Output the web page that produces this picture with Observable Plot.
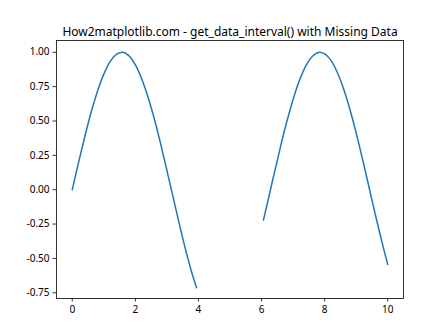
<!DOCTYPE html>
<html><head><meta charset="utf-8">
<script src="https://cdn.jsdelivr.net/npm/d3@7"></script>
<script src="https://cdn.jsdelivr.net/npm/@observablehq/plot@0.6"></script>
<style>body{margin:0;background:#fff}</style>
</head><body><div id="chart"></div>
<script>
const title = "How2matplotlib.com - get_data_interval() with Missing Data";
const xValues = [0,0.2,0.4,0.6,0.8,1.0,1.2,1.4,1.6,1.8,2.0,2.2,2.4,2.6,2.8,3.0,3.2,3.4,3.6,3.8,3.94,
  5,
  6.06,6.2,6.4,6.6,6.8,7.0,7.2,7.4,7.6,7.8,8.0,8.2,8.4,8.6,8.8,9.0,9.2,9.4,9.6,9.8,10];
const yValues = [0,0.199,0.389,0.565,0.717,0.841,0.932,0.985,1.0,0.974,0.909,0.808,0.675,0.516,0.335,0.141,-0.058,-0.256,-0.443,-0.612,-0.713,
  null,
  -0.221,-0.083,0.117,0.312,0.494,0.657,0.794,0.899,0.968,0.999,0.989,0.941,0.855,0.734,0.585,0.412,0.223,0.025,-0.174,-0.366,-0.544];
const xTicks = [0,2,4,6,8,10];
const yTicks = [-0.75,-0.5,-0.25,0,0.25,0.5,0.75,1.0];
const data = xValues.map((x,i)=>({x, y: yValues[i]}));

const font = "'Segoe UI','Noto Sans','DejaVu Sans',sans-serif";
const chart = Plot.plot({
  width: 448, height: 336,
  marginLeft: 56, marginRight: 45, marginTop: 40, marginBottom: 38,
  style: {fontFamily: font, fontSize: "10px", color: "#000", background: "#fff"},
  x: {domain: [-0.5, 10.5]},
  y: {domain: [-0.7917, 1.0857]},
  marks: [
    Plot.line(data, {x: "x", y: "y", stroke: "#1f77b4", strokeWidth: 1.5, curve: "catmull-rom"}),
    Plot.frame({stroke: "#000", strokeWidth: 0.8}),
    Plot.axisX(xTicks, {tickSize: 3.5, tickPadding: 3.5, tickFormat: d => String(d), fontSize: 10, label: null, strokeWidth: 0.8}),
    Plot.axisY(yTicks, {tickSize: 3.5, tickPadding: 3.5, tickFormat: d => d.toFixed(2), fontSize: 10, label: null, strokeWidth: 0.8}),
    Plot.text([title], {frameAnchor: "top", dy: -5, text: d => d, fontSize: 12, fill: "#000", lineAnchor: "bottom"})
  ]
});
document.getElementById("chart").appendChild(chart);
</script></body></html>
